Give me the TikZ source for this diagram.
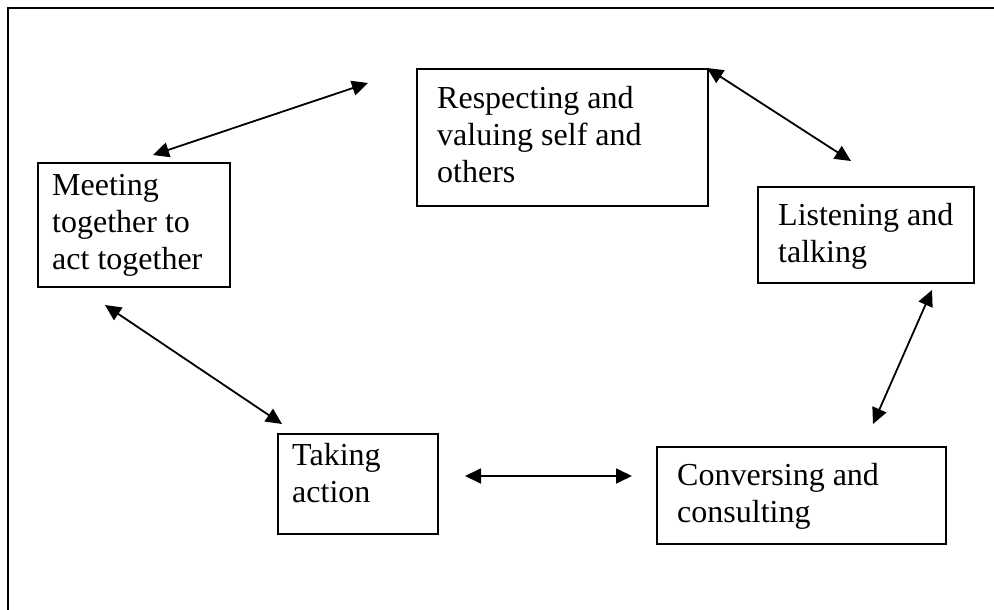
\documentclass[tikz,border=0pt]{standalone}
\usepackage{fontspec}
\setmainfont{Liberation Serif}
\usetikzlibrary{arrows.meta,calc}
\tikzset{
  box/.style={draw, line width=1.7pt, inner sep=0pt, anchor=north west},
  txt/.style={inner sep=0pt, anchor=base west, font=\fontsize{32}{37}\selectfont},
  link/.style={line width=1.8pt, {Triangle[length=16pt,width=15pt]}-{Triangle[length=16pt,width=15pt]}},
  frame/.style={line width=2.2pt}
}
\begin{document}
\begin{tikzpicture}[x=1pt,y=-1pt]
\useasboundingbox (0,0) rectangle (994,610);
% frame (top and left edges only)
\draw[frame] (8,610) -- (8,8) -- (994,8);
% boxes
\node[box, minimum width=192pt, minimum height=124pt] (meet) at (37,162) {};
\node[box, minimum width=291pt, minimum height=137pt] (resp) at (416,68) {};
\node[box, minimum width=216pt, minimum height=96pt] (list) at (757,186) {};
\node[box, minimum width=160pt, minimum height=100pt] (take) at (277,433) {};
\node[box, minimum width=289pt, minimum height=97pt] (conv) at (656,446) {};
% texts
\node[txt] (meett) at (52,195) {\parbox[t]{300pt}{Meeting\\together to\\act together}};
\node[txt] (respt) at (437,108) {\parbox[t]{300pt}{Respecting and\\valuing self and\\others}};
\node[txt] (listt) at (778,225) {\parbox[t]{300pt}{Listening and\\talking}};
\node[txt] (taket) at (292,465) {\parbox[t]{300pt}{Taking\\action}};
\node[txt] (convt) at (677,485) {\parbox[t]{300pt}{Conversing and\\consulting}};
% arrow end points
\coordinate (a1) at (153,155);
\coordinate (a2) at (368,83);
\coordinate (b1) at (707,68);
\coordinate (b2) at (851,161);
\coordinate (c1) at (932,290);
\coordinate (c2) at (873,424);
\coordinate (d1) at (465,476);
\coordinate (d2) at (632,476);
\coordinate (e1) at (105,305);
\coordinate (e2) at (282,424);
% connectors
\draw[link] (a1) -- (a2);
\draw[link] (b1) -- (b2);
\draw[link] (c1) -- (c2);
\draw[link] (d1) -- (d2);
\draw[link] (e1) -- (e2);
\end{tikzpicture}
\end{document}
